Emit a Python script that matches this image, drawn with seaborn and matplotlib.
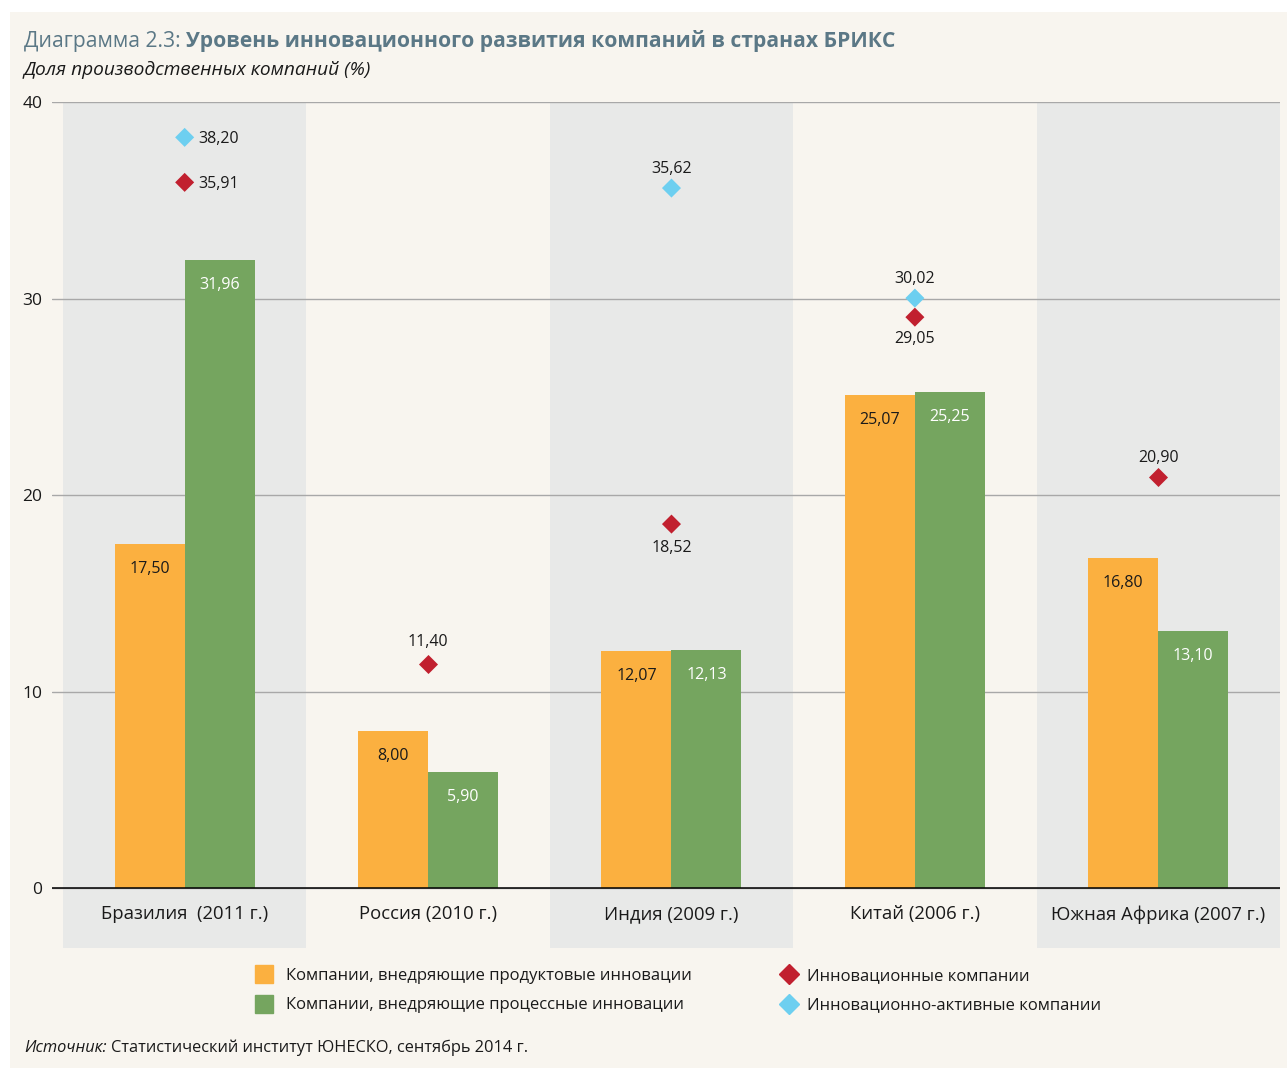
import numpy as np
import pandas as pd
import matplotlib.pyplot as plt
import seaborn as sns
from matplotlib.lines import Line2D
from matplotlib.patches import Rectangle

# Data
countries = ["Бразилия  (2011 г.)", "Россия (2010 г.)", "Индия (2009 г.)",
             "Китай (2006 г.)", "Южная Африка (2007 г.)"]
product_innov = [17.50, 8.00, 12.07, 25.07, 16.80]
process_innov = [31.96, 5.90, 12.13, 25.25, 13.10]
innovative = [35.91, 11.40, 18.52, 29.05, 20.90]
innov_active = [38.20, np.nan, 35.62, 30.02, np.nan]

bar_names = ["Компании, внедряющие продуктовые инновации",
             "Компании, внедряющие процессные инновации"]
point_names = ["Инновационные компании", "Инновационно-активные компании"]

# Colours
ORANGE = "#fbb040"
GREEN = "#75a55f"
RED = "#c1202f"
CYAN = "#6dcff0"
BAND = "#e8e9e8"
CREAM = "#f8f5ef"
TITLE_C = "#5b7886"
TXT = "#1a1a1a"

sns.set_style("white")
plt.rcParams['font.family'] = ['Open Sans', 'DejaVu Sans']

bars = pd.DataFrame({
    "country": countries * 2,
    "series": [bar_names[0]] * 5 + [bar_names[1]] * 5,
    "value": product_innov + process_innov,
})
pts = pd.DataFrame({
    "country": countries * 2,
    "series": [point_names[0]] * 5 + [point_names[1]] * 5,
    "value": innovative + innov_active,
}).dropna()

fig = plt.figure(figsize=(12.87, 10.68), dpi=100, facecolor="white")
fig.patches.append(Rectangle((10 / 1287, 0), 1, 1056 / 1068, transform=fig.transFigure,
                             facecolor=CREAM, edgecolor="none", zorder=-10))

ax = fig.add_axes([52 / 1287, 120 / 1068, 1228 / 1287, 846 / 1068])
ax.set_facecolor("none")

# alternating grey bands
for i in range(0, len(countries), 2):
    ax.axvspan(i - 0.5, i + 0.5, color=BAND, zorder=0, lw=0)

sns.barplot(data=bars, x="country", y="value", hue="series", order=countries,
            hue_order=bar_names, palette=[ORANGE, GREEN], width=0.575, gap=0,
            saturation=1, linewidth=0, legend=False, ax=ax, zorder=2)

sns.stripplot(data=pts, x="country", y="value", hue="series", order=countries,
              hue_order=point_names, palette=[RED, CYAN], marker="D", size=9.7,
              jitter=False, dodge=False, linewidth=0, legend=False, ax=ax, zorder=4)

ax.set_xlim(-0.545, 4.5)
ax.set_ylim(-3.053, 40)
ax.set_yticks([0, 10, 20, 30, 40])
ax.set_xticks([])
ax.set_xlabel("")
ax.set_ylabel("")
for s in ax.spines.values():
    s.set_visible(False)
ax.grid(axis="y", color="#a8a8a8", lw=1)
ax.set_axisbelow(True)
for gl in ax.get_ygridlines():
    gl.set_zorder(1)
ax.axhline(0, color="black", lw=1.1, zorder=3)
ax.tick_params(axis="y", length=0, pad=7, labelsize=12.5, labelcolor=TXT)

fmt = lambda v: f"{v:.2f}".replace(".", ",")

# bar value labels
for cont, col in zip(ax.containers, [TXT, "white"]):
    for rect in cont:
        h = rect.get_height()
        ax.annotate(fmt(h), (rect.get_x() + rect.get_width() / 2, h),
                    xytext=(0, -18), textcoords="offset points",
                    ha="center", va="center", fontsize=11.5, color=col, zorder=5)

# marker labels: (dx, dy, ha) in points
red_off = [(10, -1, "left"), (0, 15.5, "center"), (0, -17, "center"),
           (0, -16, "center"), (0, 14, "center")]
cyan_off = [(10, -1, "left"), None, (0, 13.5, "center"), (0, 14, "center"), None]
for i, v in enumerate(innovative):
    dx, dy, ha = red_off[i]
    ax.annotate(fmt(v), (i, v), xytext=(dx, dy), textcoords="offset points",
                ha=ha, va="center", fontsize=11.5, color=TXT, zorder=5)
for i, v in enumerate(innov_active):
    if np.isnan(v):
        continue
    dx, dy, ha = cyan_off[i]
    ax.annotate(fmt(v), (i, v), xytext=(dx, dy), textcoords="offset points",
                ha=ha, va="center", fontsize=11.5, color=TXT, zorder=5)

# category labels under the axis
for i, c in enumerate(countries):
    ax.annotate(c, (i, 0), xytext=(0, -19), textcoords="offset points",
                ha="center", va="center", fontsize=13.3, color=TXT)

# legends
sq = dict(marker="s", linestyle="none", markersize=13)
dm = dict(marker="D", linestyle="none", markersize=9.7)
h1 = [Line2D([], [], color=ORANGE, **sq), Line2D([], [], color=GREEN, **sq)]
h2 = [Line2D([], [], color=RED, **dm), Line2D([], [], color=CYAN, **dm)]
common = dict(loc="upper left", frameon=False, fontsize=12, handlelength=1.05,
              labelspacing=0.8, borderpad=0, borderaxespad=0, labelcolor=TXT)
fig.legend(h1, bar_names, bbox_to_anchor=(255 / 1287, 1 - 968 / 1068),
           handletextpad=0.8, **common)
fig.legend(h2, point_names, bbox_to_anchor=(780 / 1287, 1 - 968 / 1068),
           handletextpad=0.55, **common)

# title, subtitle, source
t1 = fig.text(24 / 1287, 1 - 41 / 1068, "Диаграмма 2.3: ", fontsize=15.2,
              color=TITLE_C, va="center")
fig.text(24 / 1287, 1 - 70 / 1068, "Доля производственных компаний (%)",
         fontsize=13.8, style="italic", color=TXT, va="center")
s1 = fig.text(24 / 1287, 1 - 1048 / 1068, "Источник:", fontsize=11.8,
              style="italic", color=TXT, va="center")

fig.canvas.draw()
r = fig.canvas.get_renderer()
bb = t1.get_window_extent(r)
fig.text(bb.x1 / fig.bbox.width, 1 - 41 / 1068,
         "Уровень инновационного развития компаний в странах БРИКС",
         fontsize=15.2, fontweight="bold", color=TITLE_C, va="center")
bb = s1.get_window_extent(r)
fig.text(bb.x1 / fig.bbox.width + 4 / 1287, 1 - 1048 / 1068,
         "Статистический институт ЮНЕСКО, сентябрь 2014 г.",
         fontsize=11.8, color=TXT, va="center")

fig.savefig("out.png", dpi=100, facecolor=fig.get_facecolor())
